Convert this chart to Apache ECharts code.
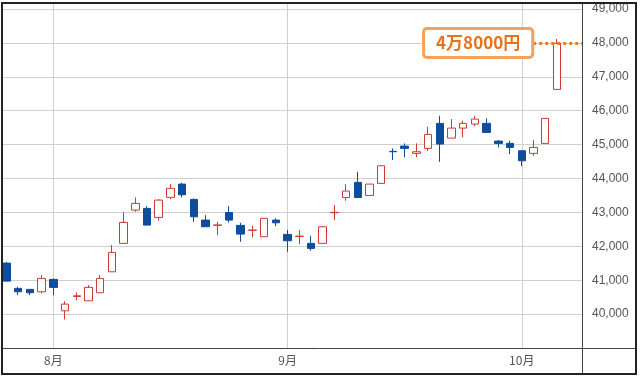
<!DOCTYPE html>
<html>
<head>
<meta charset="utf-8">
<script src="https://cdn.jsdelivr.net/npm/echarts@6/dist/echarts.min.js"></script>
<style>
  html, body { margin: 0; padding: 0; background: #fff; }
  #chart { width: 640px; height: 377px; }
</style>
</head>
<body>
<div id="chart"></div>
<script>
// 日足 (7/28 - 10/6)
const dates = [
  "2025-07-28", "2025-07-29", "2025-07-30", "2025-07-31",
  "2025-08-01", "2025-08-04", "2025-08-05", "2025-08-06", "2025-08-07", "2025-08-08",
  "2025-08-12", "2025-08-13", "2025-08-14", "2025-08-15", "2025-08-18", "2025-08-19",
  "2025-08-20", "2025-08-21", "2025-08-22", "2025-08-25", "2025-08-26", "2025-08-27",
  "2025-08-28", "2025-08-29",
  "2025-09-01", "2025-09-02", "2025-09-03", "2025-09-04", "2025-09-05", "2025-09-08",
  "2025-09-09", "2025-09-10", "2025-09-11", "2025-09-12", "2025-09-16", "2025-09-17",
  "2025-09-18", "2025-09-19", "2025-09-22", "2025-09-24", "2025-09-25", "2025-09-26",
  "2025-09-29", "2025-09-30",
  "2025-10-01", "2025-10-02", "2025-10-03", "2025-10-06"
];
const opens = [
  41504, 40758, 40729, 40658,
  41023, 40097, 40520, 40392, 40630, 41248,
  42086, 43068, 43118, 42853, 43443, 43835,
  43383, 42773, 42620, 42997, 42617, 42470,
  42283, 42773,
  42351, 42290, 42086, 42086, 42990, 43440,
  43885, 43500, 43856, 44800, 44956, 44741,
  44888, 45626, 45192, 45487, 45605, 45626,
  45103, 45036,
  44818, 44741, 45036, 46629
];
const closes = [
  40973, 40658, 40629, 41053,
  40788, 40295, 40540, 40788, 41053, 41820,
  42705, 43266, 42626, 43363, 43709, 43520,
  42870, 42576, 42630, 42773, 42360, 42480,
  42826, 42694,
  42163, 42300, 41938, 42576, 43000, 43629,
  43440, 43835, 44376, 44790, 44888, 44790,
  45301, 45015, 45487, 45626, 45752, 45360,
  45036, 44917,
  44523, 44917, 45773, 47986
];
const lows = [
  40960, 40560, 40560, 40610,
  40560, 39844, 40410, 40392, 40630, 41248,
  42086, 43020, 42626, 42752, 43393, 43443,
  42722, 42576, 42330, 42703, 42133, 42263,
  42283, 42596,
  41838, 42065, 41867, 42086, 42773, 43343,
  43440, 43500, 43856, 44543, 44623, 44623,
  44818, 44493, 45192, 45214, 45546, 45360,
  44917, 44720,
  44366, 44672, 45036, 46629
];
const highs = [
  41534, 40805, 40740, 41150,
  41053, 40384, 40640, 40856, 41150, 42036,
  43000, 43443, 43186, 43393, 43835, 43874,
  43413, 42920, 42722, 43186, 42694, 42605,
  42826, 42826,
  42478, 42478, 42310, 42596, 43216, 43835,
  44198, 43835, 44396, 44888, 45036, 45036,
  45526, 45850, 45752, 45703, 45850, 45773,
  45133, 45113,
  44818, 45133, 45773, 48113
];
const monthIdx = [4, 24, 44];
const monthLabels = ["8月", "9月", "10月"];
const markValue = 48000;
const markText = "4万8000円";

const chart = echarts.init(document.getElementById("chart"));

const candles = dates.map((d, i) => [i, opens[i], closes[i], lows[i], highs[i]]);

const option = {
  animation: false,
  backgroundColor: "#fff",
  grid: { left: 3, right: 57, top: 3, bottom: 29 },
  xAxis: {
    type: "value",
    min: -0.3,
    max: 49.23,
    axisLine: { show: false },
    axisTick: { show: false, customValues: monthIdx },
    axisLabel: {
      customValues: monthIdx,
      formatter: (v) => monthLabels[monthIdx.indexOf(v)] || "",
      color: "#555",
      fontSize: 12,
      fontFamily: "Noto Sans CJK JP",
      margin: 6
    },
    splitLine: { show: true, lineStyle: { color: "#cfcfcf", width: 1 } }
  },
  yAxis: {
    type: "value",
    position: "right",
    min: 39000,
    max: 49177,
    interval: 1000,
    axisLine: { show: false },
    axisTick: { show: false },
    axisLabel: {
      showMinLabel: false,
      showMaxLabel: false,
      color: "#555",
      fontSize: 12,
      fontFamily: "Liberation Sans",
      margin: 9,
      formatter: (v) => v.toLocaleString("en-US")
    },
    splitLine: { lineStyle: { color: "#cfcfcf", width: 1 } }
  },
  series: [
    {
      type: "candlestick",
      data: candles,
      encode: { x: 0, y: [1, 2, 3, 4] },
      barWidth: 8,
      itemStyle: {
        color: "#ffffff",
        borderColor: "#cf3b32",
        color0: "#0e4c9e",
        borderColor0: "#0e4c9e",
        borderWidth: 1
      },
      markLine: {
        silent: true,
        symbol: "none",
        lineStyle: { type: [3, 3], color: "#e87a2c", width: 3 },
        label: {
          show: true,
          position: "start",
          distance: 2,
          formatter: markText,
          color: "#e8711c",
          fontSize: 17,
          fontWeight: "bold",
          fontFamily: "Noto Sans CJK JP",
          backgroundColor: "#fff",
          borderColor: "#f2a25c",
          borderWidth: 3,
          borderRadius: 2,
          padding: [5, 11, 4, 11]
        },
        data: [[{ coord: [44.98, markValue] }, { coord: [49.23, markValue] }]]
      }
    }
  ],
  graphic: [
    { type: "line", shape: { x1: 582.5, y1: 3, x2: 582.5, y2: 374 }, style: { stroke: "#444", lineWidth: 1 }, z: 10 },
    { type: "line", shape: { x1: 3, y1: 348.5, x2: 636, y2: 348.5 }, style: { stroke: "#444", lineWidth: 1 }, z: 10 },
    { type: "rect", shape: { x: 2, y: 3, width: 634, height: 371 }, style: { fill: "none", stroke: "#222", lineWidth: 2 }, z: 10 }
  ]
};

chart.setOption(option);
</script>
</body>
</html>
